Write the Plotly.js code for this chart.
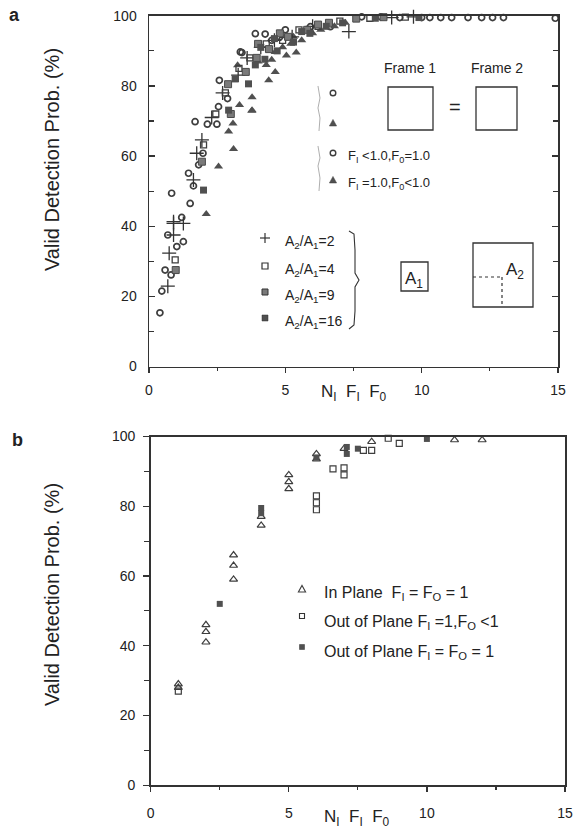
<!DOCTYPE html>
<html>
<head>
<meta charset="utf-8">
<script src="https://cdn.plot.ly/plotly-3.0.1.min.js"></script>
<style>html,body{margin:0;padding:0;background:#fff;}#chart{width:573px;height:830px;}</style>
</head>
<body>
<div id="chart"></div>
<script>
// ---------- Panel a data ----------
const aCircleX = [0.4,0.47,0.59,0.81,0.69,1.02,1.26,1.2,0.83,1.51,1.63,1.45,1.82,1.98,1.69,2.14,2.49,2.55,2.58,3.35,3.9,4.26,2.88,3.41,5.0,5.92,6.65,7.8,8.5,9.2,10.0,10.3,10.7,11.1,11.7,12.2,12.6,13.0,14.9,4.5,4.8];
const aCircleY = [15.3,21.5,27.5,26.1,37.5,34.2,35.6,42.5,49.4,46.5,51.5,55.1,57.5,60.8,69.8,69.1,69.1,74.1,81.6,89.7,94.9,94.8,76.4,89.5,96,96.9,96.9,99.7,99.7,99.5,99.5,99.5,99.5,99.5,99.5,99.5,99.5,99.5,99.3,93,94];
const aTriX = [2.1,2.55,3.1,2.92,3.08,3.32,3.78,3.78,3.77,4.39,4.63,3.25,4.63,5.04,5.4,4.0,4.3,4.5,5.2,5.6,6.0,6.3,6.8,7.2,4.9,5.3];
const aTriY = [43.5,57,62,67,69.3,74.6,73.1,76.8,72.9,81.6,84,85.9,89.7,88.7,89.5,87,86,87.5,92,93,95,96,97,98,91,94];
const aPlusX = [0.69,0.74,0.9,0.9,1.26,0.9,1.63,1.75,1.94,3.27,2.3,2.7,3.6,4.1,4.6,5.25,6.0,7.33,9.7,8.9];
const aPlusY = [22.9,32.3,37.5,41.3,40.8,40.8,53.2,60.8,64.6,83.1,71,78,88,91,93,94,97,95.5,99.7,99.5];
const aSq4X = [0.96,2.0,2.45,2.8,3.3,3.7,4.3,4.9,5.5,6.2,7.0,8.1,9.4];
const aSq4Y = [30.4,63.2,72,78,85,88,92,93,96,97,98.5,99.3,99.6];
const aSq9X = [0.98,1.94,2.9,3.0,3.55,3.95,4.4,5.1,5.8,6.6,7.6,8.6,4.0,4.8,6.2];
const aSq9Y = [27.5,58.4,80.5,72,84,88,90.5,94,96,98,99.2,99.6,92,95,97.5];
const aSq16X = [2.0,2.92,3.16,3.65,3.9,4.25,4.7,5.3,5.9,6.5,7.1,8.3,9.9,4.1,4.6,5.6];
const aSq16Y = [50.3,73.1,82,80.6,86,87.6,90,92.5,95,97,98,99.3,99.5,91,93.5,95.5];

// ---------- Panel b data ----------
const bInPlaneX = [1,1,2,2,2,3,3,3,4,4,5,5,5,6,6,7,8,11,12];
const bInPlaneY = [29,28,46,44,41,66,63,59,77,74.5,89,87,85,95,93.5,96.5,98.5,99,99];
const bOutOpenX = [1,6,6,6,6.6,7,7,7.7,8,8.6,9];
const bOutOpenY = [27,83,81,79,90.7,91,89,96,96,99.5,98];
const bOutFillX = [2.5,4,4,6,7.1,7.1,7.5,10];
const bOutFillY = [52,79.5,78,94,97,95,96.5,99.3];

const xTicks = [0,5,10,15];
const yTicks = [0,20,40,60,80,100];

const FONT = "Liberation Sans, Arial, Helvetica, sans-serif";
const INK = "#333";
const MK = "#3e3e3e";

const traces = [
  {x:aCircleX,y:aCircleY,xaxis:'x',yaxis:'y',mode:'markers',cliponaxis:false,
   marker:{symbol:'circle-open',size:6,color:MK,line:{width:1.7,color:MK}}},
  {x:aTriX,y:aTriY,xaxis:'x',yaxis:'y',mode:'markers',cliponaxis:false,
   marker:{symbol:'triangle-up',size:8,color:'#505050'}},
  {x:aPlusX,y:aPlusY,xaxis:'x',yaxis:'y',mode:'markers',cliponaxis:false,
   marker:{symbol:'cross-thin-open',size:10,color:'#333',line:{width:1.3,color:'#333'}}},
  {x:aSq4X,y:aSq4Y,xaxis:'x',yaxis:'y',mode:'markers',cliponaxis:false,
   marker:{symbol:'square-open',size:6,color:MK,line:{width:1.3,color:MK}}},
  {x:aSq9X,y:aSq9Y,xaxis:'x',yaxis:'y',mode:'markers',cliponaxis:false,
   marker:{symbol:'square',size:7,color:'#7a7a7a',line:{width:1,color:'#4a4a4a'}}},
  {x:aSq16X,y:aSq16Y,xaxis:'x',yaxis:'y',mode:'markers',cliponaxis:false,
   marker:{symbol:'square',size:7,color:'#505050'}},
  {x:bInPlaneX,y:bInPlaneY,xaxis:'x2',yaxis:'y2',mode:'markers',cliponaxis:false,
   marker:{symbol:'triangle-up-open',size:7,color:MK,line:{width:1.2,color:MK}}},
  {x:bOutOpenX,y:bOutOpenY,xaxis:'x2',yaxis:'y2',mode:'markers',cliponaxis:false,
   marker:{symbol:'square-open',size:6,color:MK,line:{width:1.2,color:MK}}},
  {x:bOutFillX,y:bOutFillY,xaxis:'x2',yaxis:'y2',mode:'markers',cliponaxis:false,
   marker:{symbol:'square',size:6,color:'#505050'}}
];

const W = 573, H = 830;
const PX = v => v / W;
const PY = v => 1 - v / H;

function axisX(domain, anchor, standoff) {
  return {domain:domain, anchor:anchor, range:[0,15], tickvals:xTicks, ticktext:xTicks.map(String),
    ticks:'outside', ticklen:5, tickwidth:1.2, tickcolor:INK,
    minor:{dtick:2.5, tick0:0, ticks:'outside', ticklen:3, tickcolor:INK},
    showline:true, linecolor:INK, linewidth:1.5, mirror:true,
    showgrid:false, zeroline:false, ticklabelstandoff:standoff,
    tickfont:{family:FONT,size:14,color:'#222'}, fixedrange:true};
}
function axisY(domain, anchor, tickdir, mirror, standoff) {
  return {domain:domain, anchor:anchor, range:[0,100], tickvals:yTicks, ticktext:yTicks.map(String),
    ticks:tickdir, ticklen:6, tickwidth:1.2, tickcolor:INK,
    minor:{dtick:10, tick0:0, ticks:tickdir, ticklen:5, tickcolor:INK},
    showline:true, linecolor:INK, linewidth:1.5, mirror:mirror,
    showgrid:false, zeroline:false, ticklabelstandoff:standoff,
    tickfont:{family:FONT,size:14,color:'#222'}, fixedrange:true};
}

function rect(x0,y0,x1,y1,fill,lw,dash) {
  return {type:'rect',xref:'paper',yref:'paper',x0:PX(x0),x1:PX(x1),y0:PY(y1),y1:PY(y0),
    fillcolor:fill||'rgba(0,0,0,0)',line:{color:INK,width:lw===undefined?1.3:lw,dash:dash||'solid'}};
}
function line(x0,y0,x1,y1,lw,dash,col) {
  return {type:'line',xref:'paper',yref:'paper',x0:PX(x0),x1:PX(x1),y0:PY(y0),y1:PY(y1),
    line:{color:col||INK,width:lw||1.2,dash:dash||'solid'}};
}
function pathP(pts, closed, fill, lw, col) {
  let d = pts.map((p,i)=>(i? 'L':'M')+PX(p[0]).toFixed(5)+','+PY(p[1]).toFixed(5)).join(' ');
  if (closed) d += ' Z';
  return {type:'path',xref:'paper',yref:'paper',path:d,fillcolor:fill||'rgba(0,0,0,0)',
    line:{color:col||INK,width:lw===undefined?1.2:lw}};
}
function circ(cx,cy,r) {
  return {type:'circle',xref:'paper',yref:'paper',x0:PX(cx-r),x1:PX(cx+r),y0:PY(cy+r),y1:PY(cy-r),
    line:{color:MK,width:1.4}};
}
function tri(cx,cy,fill) {
  return pathP([[cx-3.6,cy+3],[cx+3.6,cy+3],[cx,cy-3.6]], true, fill, fill? 0.5:1.1, MK);
}
function ann(text,x,y,size,xanchor,opts) {
  return Object.assign({text:text,xref:'paper',yref:'paper',x:PX(x),y:PY(y),showarrow:false,
    xanchor:xanchor||'center',yanchor:'middle',font:{family:FONT,size:size,color:'#222'}}, opts||{});
}

const shapes = [
  // panel a: frames
  rect(388,87,433,130), rect(476,87,517,130),
  // A1 / A2 boxes
  rect(401,262,428,291), rect(473,243,533,307),
  line(473,277,502,277,1.2,'dot'), line(502,277,502,307,1.2,'dot'),
  // faint left braces
  pathP([[318,86],[320,98],[318,108],[320,118],[319,131]], false, null, 0.8, '#999'),
  pathP([[318,146],[320,158],[318,166],[320,178],[319,191]], false, null, 0.8, '#999'),
  // right brace of A2/A1 legend
  pathP([[349,231],[354,234],[355,250],[355,273],[359,280],[355,287],[355,311],[354,325],[349,329]], false, null, 1.1),
  // legend keys panel a
  circ(333,93,2.8), tri(333,123,'#505050'), circ(333,153,2.8), tri(333,180,'#505050'),
  line(260,238,270,238,1.2), line(265,233,265,243,1.2),
  rect(262,263,268,269,null,1.2),
  rect(262,289,268,295,'#7a7a7a',1),
  rect(262,315,268,321,'#505050',0.5),
  // legend keys panel b
  tri(302,589,null),
  rect(299.5,613.5,304.5,618.5,null,1.1),
  rect(299.5,644.5,304.5,649.5,'#505050',0.5)
];

const annotations = [
  ann('<b>a</b>',14,15,18,'center'),
  ann('<b>b</b>',17,440,18,'center'),
  ann('Valid Detection Prob. (%)',52,160,20,'center',{textangle:-90}),
  ann('Valid Detection Prob. (%)',52,595,20,'center',{textangle:-90}),
  ann('N<sub>I</sub>  F<sub>I</sub>  F<sub>0</sub>',354,393,17,'center'),
  ann('N<sub>I</sub>  F<sub>I</sub>  F<sub>0</sub>',357,818,17,'center'),
  ann('Frame 1',410,68,14,'center'),
  ann('Frame 2',497,68,14,'center'),
  ann('=',455,107,20,'center'),
  ann('F<sub>I</sub> <1.0,F<sub>0</sub>=1.0',346,157,13,'left'),
  ann('F<sub>I</sub> =1.0,F<sub>0</sub><1.0',346,184,13,'left'),
  ann('A<sub>2</sub>/A<sub>1</sub>=2',283,242,14,'left'),
  ann('A<sub>2</sub>/A<sub>1</sub>=4',283,270,14,'left'),
  ann('A<sub>2</sub>/A<sub>1</sub>=9',283,296,14,'left'),
  ann('A<sub>2</sub>/A<sub>1</sub>=16',283,322,14,'left'),
  ann('A<sub>1</sub>',414,280,17,'center'),
  ann('A<sub>2</sub>',515,271,17,'center'),
  ann('In Plane  F<sub>I</sub> = F<sub>O</sub> = 1',322,593,16,'left'),
  ann('Out of Plane F<sub>I</sub> =1,F<sub>O</sub> <1',322,622,16,'left'),
  ann('Out of Plane F<sub>I</sub> = F<sub>O</sub> = 1',322,652,16,'left')
];

const layout = {
  width:W, height:H, autosize:false,
  margin:{l:0,r:0,t:0,b:0,pad:0},
  paper_bgcolor:'#fff', plot_bgcolor:'#fff',
  showlegend:false,
  font:{family:FONT,color:'#222'},
  xaxis: axisX([149/W, 558/W], 'y', 5),
  yaxis: axisY([1-366.5/H, 1-15.8/H], 'x', 'inside', 'ticks', 8),
  xaxis2: axisX([150.7/W, 565/W], 'y2', 9),
  yaxis2: axisY([1-785.2/H, 1-436.5/H], 'x2', 'outside', true, 5),
  shapes:shapes,
  annotations:annotations
};

Plotly.newPlot('chart', traces, layout, {staticPlot:true, displayModeBar:false});
</script>
</body>
</html>
